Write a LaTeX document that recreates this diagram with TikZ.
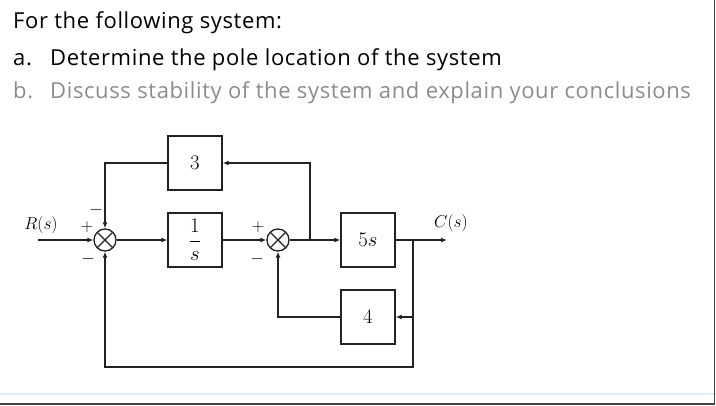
\documentclass[tikz,border=0pt]{standalone}
\usepackage{fontspec}
\usepackage{amsmath}
\newfontfamily\headfont[LetterSpace=2.8]{Open Sans}
\usetikzlibrary{positioning, arrows.meta}

\definecolor{linegray}{HTML}{222222}
\definecolor{softgray}{HTML}{8C8C8C}
\definecolor{framegray}{HTML}{444444}
\definecolor{paleblue}{HTML}{DDEFFA}

\begin{document}
\begin{tikzpicture}[
  x=1pt, y=-1pt,
  >={Latex[length=6pt,width=5pt]},
% 1. Plain square blocks
  block/.style={
    draw=linegray,
    rectangle,
    minimum width=54pt,
    minimum height=54pt,
    line width=1.3pt,
    font=\fontsize{20}{22}\selectfont
  },
% 2. Summing junctions with a cross
  sumnode/.style={
    draw=linegray,
    circle,
    minimum size=22pt,
    inner sep=0pt,
    line width=1.3pt,
    path picture={
      \draw[line width=1.3pt, linegray]
        (path picture bounding box.north west) -- (path picture bounding box.south east)
        (path picture bounding box.north east) -- (path picture bounding box.south west);
    }
  },
% 3. Signal lines
  signal/.style={
    draw=linegray,
    line width=1.3pt
  },
  sign_font/.style={
    font=\fontsize{18}{18}\selectfont, inner sep=0pt
  },
  head_font/.style={
    font=\headfont\fontsize{22}{24}\selectfont, inner sep=0pt, anchor=base west
  }
]
  \useasboundingbox (0,0) rectangle (716,405);

  % Question text
  \node[head_font, text=black] (title) at (13,28) {For the following system:};
  \node[head_font, text=black] (itema) at (13,65) {a.};
  \node[head_font, text=black] (texta) at (50,65) {Determine the pole location of the system};
  \node[head_font, text=softgray] (itemb) at (13,98) {b.};
  \node[head_font, text=softgray] (textb) at (50,98) {Discuss stability of the system and explain your conclusions};

  % Blocks and junctions
  \node[sumnode] (sum1) at (105,240) {};
  \node[sumnode] (sum2) at (278,240) {};
  \node[block] (g3) at (195,163) {$3$};
  \node[block] (inv) at (195,240) {$\dfrac{1}{s}$};
  \node[block] (g5s) at (368,240) {$5s$};
  \node[block] (g4) at (368,317) {$4$};

  % Branch points and free ends
  \coordinate (in) at (38,240);
  \coordinate (br1) at (310,240);
  \coordinate (br2) at (413,240);
  \coordinate (out) at (447,240);
  \coordinate (corner) at (413,367);

  % Labels
  \node[font=\fontsize{18}{18}\selectfont, inner sep=0pt] (rlabel) at (41,225) {$R(s)$};
  \node[font=\fontsize{18}{18}\selectfont, inner sep=0pt] (clabel) at (451,223) {$C(s)$};
  \node[sign_font] (p1) at (87,227) {$+$};
  \node[sign_font] (m1a) at (96,210) {$-$};
  \node[sign_font] (m1b) at (88,259) {$-$};
  \node[sign_font] (p2) at (258,227) {$+$};
  \node[sign_font] (m2) at (257,259) {$-$};

  % Forward path
  \path[signal, ->] (in) -- (sum1.west);
  \path[signal, ->] (sum1.east) -- (inv.west);
  \path[signal, ->] (inv.east) -- (sum2.west);
  \path[signal, ->] (sum2.east) -- (g5s.west);
  \path[signal, ->] (g5s.east) -- (out);

  % Feedback paths
  \path[signal, ->] (br1) |- (g3.east);
  \path[signal, ->] (g3.west) -| (sum1.north);
  \path[signal, ->] (br2) |- (g4.east);
  \path[signal, ->] (g4.west) -| (sum2.south);
  \path[signal, ->] (br2) -- (corner) -| (sum1.south);

  % Window edge
  \draw[paleblue, line width=1.5pt] (0,394) -- (714,394);
  \draw[framegray, line width=1.5pt] (714.5,0) -- (714.5,404) -- (0,404);
\end{tikzpicture}
\end{document}
